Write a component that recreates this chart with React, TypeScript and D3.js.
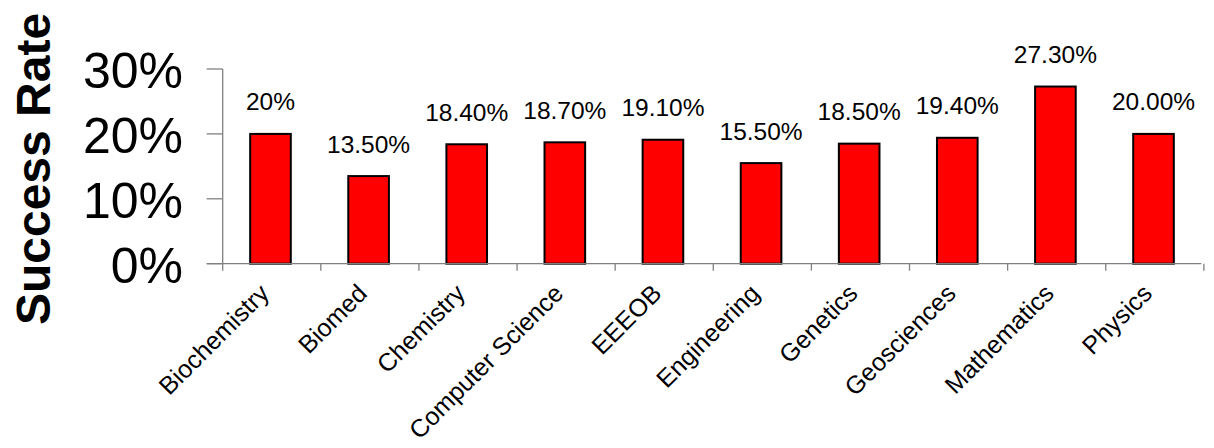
import React from "react";
import * as d3 from "d3";

const categories = ["Biochemistry", "Biomed", "Chemistry", "Computer Science", "EEEOB", "Engineering", "Genetics", "Geosciences", "Mathematics", "Physics"];
const values = [0.2, 0.135, 0.184, 0.187, 0.191, 0.155, 0.185, 0.194, 0.273, 0.2];
const valueLabels = ["20%", "13.50%", "18.40%", "18.70%", "19.10%", "15.50%", "18.50%", "19.40%", "27.30%", "20.00%"];
const yTicks = [0, 0.1, 0.2, 0.3];
const yTickLabels = ["0%", "10%", "20%", "30%"];

const W = 1214;
const H = 448;
const FONT = "'Liberation Sans', Arial, Helvetica, sans-serif";

export default function App() {
  const x = d3.scaleBand<string>().domain(categories).range([222.7, 1201.3]).paddingInner(0.586).paddingOuter(0.28);
  const y = d3.scaleLinear().domain([0, 0.3]).range([263.7, 69]);
  const step = x.step();
  const axisColor = "#808080";
  const x0 = 222.7;
  const x1 = 1201.3;
  const y0 = y(0);
  return (
    <svg width={W} height={H} style={{ position: "absolute", left: 0, top: 0, background: "#fff" }} fontFamily={FONT}>
      <rect x={0} y={0} width={W} height={H} fill="#fff" />
      {/* y axis */}
      <line x1={x0} x2={x0} y1={y(0.3)} y2={y0} stroke={axisColor} strokeWidth={1.3} />
      {yTicks.map((t, i) => (
        <g key={"yt" + i}>
          <line x1={206.7} x2={x0} y1={y(t)} y2={y(t)} stroke={axisColor} strokeWidth={1.3} />
          <text x={183} y={y(t)} dy="0.385em" textAnchor="end" fontSize={50} fill="#000">{yTickLabels[i]}</text>
        </g>
      ))}
      {/* bars */}
      {categories.map((c, i) => (
        <rect key={"b" + i} x={x(c)!} y={y(values[i])} width={x.bandwidth()} height={y0 - y(values[i])} fill="#FF0000" stroke="#000" strokeWidth={2} />
      ))}
      {/* x axis */}
      <line x1={206.7} x2={x1} y1={y0} y2={y0} stroke={axisColor} strokeWidth={1.3} />
      {d3.range(categories.length + 1).map((k) => (
        <line key={"xt" + k} x1={x0 + k * step} x2={x0 + k * step} y1={y0} y2={y0 + 7} stroke={axisColor} strokeWidth={1.3} />
      ))}
      {/* value labels */}
      {categories.map((c, i) => (
        <text key={"v" + i} x={x(c)! + x.bandwidth() / 2} y={y(values[i]) - 23.5} textAnchor="middle" fontSize={24.5} fill="#000">{valueLabels[i]}</text>
      ))}
      {/* category labels */}
      {categories.map((c, i) => {
        const cx = x(c)! + x.bandwidth() / 2;
        const cy = 295;
        return (
          <text key={"c" + i} x={cx} y={cy} textAnchor="end" fontSize={25} fill="#000" transform={`rotate(-45 ${cx} ${cy})`}>{c}</text>
        );
      })}
      {/* y title */}
      <text x={49.5} y={169} textAnchor="middle" fontSize={48} fontWeight="bold" fill="#000" transform="rotate(-90 49.5 169)">Success Rate</text>
    </svg>
  );
}
